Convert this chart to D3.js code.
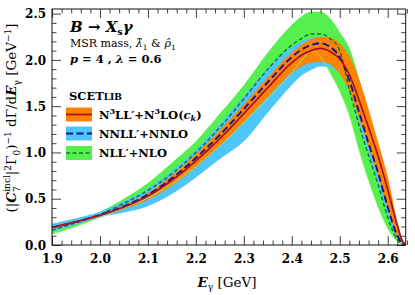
<!DOCTYPE html>
<html><head><meta charset="utf-8">
<script src="https://cdn.jsdelivr.net/npm/d3@7"></script>
<style>body{margin:0;background:#fff}svg{display:block}</style>
</head><body><svg id="c" width="415" height="295"></svg>
<script>
// ---- data ----
const energies = [1.9,1.95,2.0,2.05,2.1,2.15,2.2,2.25,2.3,2.35,2.4,2.42,2.44,2.46,2.48,2.5,2.52,2.54,2.56,2.58,2.6,2.62,2.63,2.6375];
const n3llCentral = [0.19,0.25,0.32,0.41,0.53,0.70,0.91,1.15,1.42,1.70,1.97,2.05,2.10,2.125,2.09,2.01,1.84,1.57,1.27,0.96,0.60,0.21,0.05,0];
const n3llHigh    = [0.20,0.26,0.33,0.43,0.56,0.75,0.98,1.24,1.52,1.81,2.08,2.16,2.22,2.25,2.24,2.18,2.04,1.80,1.47,1.11,0.74,0.26,0.07,0];
const n3llLow     = [0.18,0.24,0.31,0.39,0.49,0.64,0.84,1.07,1.33,1.60,1.86,1.93,1.97,1.98,1.95,1.85,1.66,1.38,1.06,0.74,0.39,0.10,0.02,0];
const nnllCentral = [0.19,0.25,0.325,0.42,0.545,0.72,0.94,1.19,1.47,1.76,2.03,2.11,2.16,2.18,2.14,2.03,1.78,1.44,1.10,0.78,0.41,0.10,0.02,0];
const nnllHigh    = [0.23,0.29,0.36,0.47,0.61,0.80,1.03,1.31,1.61,1.91,2.14,2.20,2.24,2.25,2.22,2.12,1.92,1.62,1.30,0.96,0.60,0.22,0.06,0];
const nnllLow     = [0.15,0.22,0.30,0.35,0.42,0.55,0.73,0.93,1.12,1.43,1.73,1.83,1.89,1.93,1.92,1.85,1.70,1.33,1.00,0.67,0.33,0.08,0.02,0];
const nllCentral  = [0.16,0.24,0.33,0.45,0.59,0.77,1.00,1.27,1.58,1.90,2.16,2.23,2.28,2.28,2.23,2.10,1.68,1.30,0.97,0.65,0.30,0.06,0.01,0];
const nllHigh     = [0.19,0.26,0.36,0.50,0.67,0.89,1.12,1.42,1.73,2.08,2.38,2.47,2.52,2.52,2.45,2.30,2.13,1.80,1.37,0.90,0.48,0.13,0.04,0];
const nllLow      = [0.12,0.20,0.30,0.40,0.51,0.66,0.85,1.07,1.32,1.58,1.86,1.99,2.10,2.03,1.86,1.66,1.40,1.03,0.70,0.41,0.18,0.04,0.01,0];
const xTicks = [1.9,2.0,2.1,2.2,2.3,2.4,2.5,2.6];
const yTicks = [0.0,0.5,1.0,1.5,2.0,2.5];
const xDomain = [1.9, 2.6375];
const yDomain = [0, 2.55];

// ---- styles ----
const C = {green:"#55f04f", blue:"#4fc6fb", orange:"#ff8200", red:"#a8102c", navy:"#14148c", dgreen:"#0b7a22", thin:"#8af06a"};
const FONT = "'DejaVu Serif', serif";

const svg = d3.select("#c");
svg.append("rect").attr("width",415).attr("height",295).attr("fill","#fff");
const L=52, R=405.7, T=9, B=245;
const x = d3.scaleLinear().domain(xDomain).range([L,R]);
const y = d3.scaleLinear().domain(yDomain).range([B,T]);

const plot = svg.append("g");
plot.append("defs").append("clipPath").attr("id","clip").append("rect")
  .attr("x",L).attr("y",T).attr("width",R-L).attr("height",B-T);
const g = plot.append("g").attr("clip-path","url(#clip)");

function band(lo,hi,color){
  const a = d3.area().x((d,i)=>x(energies[i])).y0((d,i)=>y(lo[i])).y1((d,i)=>y(hi[i])).curve(d3.curveMonotoneX);
  g.append("path").datum(energies).attr("d",a).attr("fill",color);
}
function line(vals,color,w,dash){
  const l = d3.line().x((d,i)=>x(energies[i])).y((d,i)=>y(vals[i])).curve(d3.curveMonotoneX);
  const p = g.append("path").datum(energies).attr("d",l).attr("fill","none").attr("stroke",color).attr("stroke-width",w);
  if(dash) p.attr("stroke-dasharray",dash);
}
band(nllLow,nllHigh,C.green);
band(nnllLow,nnllHigh,C.blue);
band(n3llLow,n3llHigh,C.orange);
line(nllLow,C.thin,0.9);
line(nllCentral,C.dgreen,1.4,"4,2.5");
line(nnllCentral,C.navy,1.9,"7,3.5");
line(n3llCentral,C.red,1.7);

// ---- axes: inward ticks on all sides ----
const xMinor = d3.range(1.9,2.64,0.02).filter(v=>Math.abs(v*10-Math.round(v*10))>1e-6);
const yMinor = d3.range(0,2.55,0.1).filter(v=>Math.abs(v*2-Math.round(v*2))>1e-6);
const tickCol="#444";
function ticks(axisGen, vals, size, tr, labels){
  const a = axisGen.tickValues(vals).tickSizeInner(-size).tickSizeOuter(0);
  if(!labels) a.tickFormat("");
  else a.tickFormat(d3.format(".1f"));
  const gg = svg.append("g").attr("transform",tr).call(a);
  gg.select(".domain").remove();
  gg.selectAll("line").attr("stroke",tickCol).attr("stroke-width",1);
  return gg;
}
ticks(d3.axisBottom(x), xMinor, 4.5, `translate(0,${B})`);
ticks(d3.axisTop(x), xMinor, 4.5, `translate(0,${T})`);
ticks(d3.axisTop(x), xTicks, 9, `translate(0,${T})`);
ticks(d3.axisLeft(y), yMinor, 4.5, `translate(${L},0)`);
ticks(d3.axisRight(y), yMinor, 4.5, `translate(${R},0)`);
ticks(d3.axisRight(y), yTicks, 9, `translate(${R},0)`);
const xa = ticks(d3.axisBottom(x), xTicks, 9, `translate(0,${B})`, true);
xa.selectAll("text").attr("dy","0").attr("y",18).attr("font-family",FONT).attr("font-weight","bold").attr("font-size",12).attr("fill","#000");
const ya = ticks(d3.axisLeft(y), yTicks, 9, `translate(${L},0)`, true);
ya.selectAll("text").attr("x",-6).attr("dy","0.35em").attr("font-family",FONT).attr("font-weight","bold").attr("font-size",12).attr("fill","#000");

svg.append("rect").attr("x",L).attr("y",T).attr("width",R-L).attr("height",B-T)
  .attr("fill","none").attr("stroke","#111").attr("stroke-width",1);

// ---- rich text helper ----
function rich(parent, parts, attrs){
  const t = parent.append("text").attr("font-family",FONT).attr("fill","#000");
  for(const k in attrs) t.attr(k,attrs[k]);
  parts.forEach(p=>{
    const s = t.append("tspan").text(p.t);
    if(p.s) s.attr("font-size",p.s);
    if(p.i) s.attr("font-style","italic");
    if(p.b!==undefined) s.attr("font-weight",p.b?"bold":"normal");
    if(p.dy) s.attr("dy",p.dy);
    if(p.dx) s.attr("dx",p.dx);
  });
  return t;
}

// axis titles
rich(svg,[{t:"E",i:1,b:1},{t:"γ",s:9,dy:3},{t:" [GeV]",dy:-3}],{x:227,y:287,"font-size":13.5,"text-anchor":"middle"});
rich(svg,[{t:"(|"},{t:"C",i:1,b:1},{t:"7",s:9,dy:4},{t:"incl",s:9,dx:-5.5,dy:-10},{t:"|",dy:6},{t:"2",s:9,dy:-5.5},{t:"Γ",dy:5.5},{t:"0",s:9,dy:3.5},{t:")",dy:-3.5},{t:"−1",s:9,dy:-5.5},{t:" dΓ/d",dy:5.5},{t:"E",i:1,b:1},{t:"γ",s:9,dy:3.5},{t:" [GeV",dy:-3.5},{t:"−1",s:9,dy:-5.5},{t:"]",dy:5.5}],
  {transform:"translate(16,118) rotate(-90)","font-size":13.5,"text-anchor":"middle"});

// annotations
rich(svg,[{t:"B",i:1},{t:" → ",i:0},{t:"X",i:1},{t:"s",s:9.5,dy:3},{t:"γ",i:1,dy:-3}],{x:70,y:32,"font-size":15,"font-weight":"bold"});
rich(svg,[{t:"MSR mass, "},{t:"λ\u0302",i:1},{t:"1",s:7.5,dy:2.5},{t:" & ",dy:-2.5},{t:"ρ\u0302",i:1},{t:"1",s:7.5,dy:2.5}],{x:70,y:47,"font-size":11});
rich(svg,[{t:"p",i:1},{t:" = 4 , "},{t:"λ",i:1},{t:" = 0.6"}],{x:70,y:63,"font-size":11.5,"font-weight":"bold"});
rich(svg,[{t:"SCET"},{t:"LIB",s:9}],{x:69,y:100,"font-size":11.5,"font-weight":"bold"});

// legend
const legend = [
  {fill:C.orange, stroke:C.red, dash:null, w:1.8, y:114.5, parts:[{t:"N"},{t:"3",s:8,dy:-4.5},{t:"LL′+N",dy:4.5},{t:"3",s:8,dy:-4.5},{t:"LO(",dy:4.5},{t:"c",i:1},{t:"k",s:8,i:1,dy:2.5},{t:")",dy:-2.5}]},
  {fill:C.blue, stroke:C.navy, dash:"7,3.5", w:2, y:133.5, parts:[{t:"NNLL′+NNLO"}]},
  {fill:C.green, stroke:C.dgreen, dash:"4,2.5", w:1.4, y:153, parts:[{t:"NLL′+NLO"}]}
];
legend.forEach(e=>{
  svg.append("rect").attr("x",66).attr("y",e.y-7).attr("width",26).attr("height",14).attr("fill",e.fill);
  const l = svg.append("line").attr("x1",66).attr("x2",92).attr("y1",e.y).attr("y2",e.y).attr("stroke",e.stroke).attr("stroke-width",e.w);
  if(e.dash) l.attr("stroke-dasharray",e.dash);
  rich(svg,e.parts,{x:99,y:e.y+4,"font-size":11.5,"font-weight":"bold"});
});
</script></body></html>
